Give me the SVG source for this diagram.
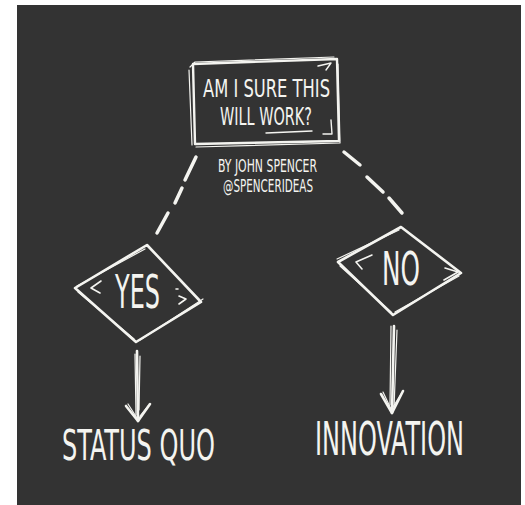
<svg xmlns="http://www.w3.org/2000/svg" width="525" height="505" viewBox="0 0 525 505">
<style>
.chalk{fill:none;stroke:#f4f4f0;stroke-linecap:round;stroke-linejoin:round}
.t{fill:#f4f4f0;font-family:"Liberation Sans Narrow","DejaVu Sans Condensed","Liberation Sans",sans-serif}
</style>
<rect x="0" y="0" width="525" height="505" fill="#ffffff"/>
<rect x="17" y="5" width="504" height="500" fill="#333333"/>

<g id="question">
<path class="chalk" stroke-width="2.4" d="M193,64 L337,59 L339,141 L195,144 Z"/>
<path class="chalk" stroke-width="1.2" d="M190,67 L195,62 L334,57 M196,147 L340,143 L338,64 M189,70 L192,145"/>
<path class="chalk" stroke-width="1.4" d="M318,66 L331,63 L326,70 M266,133 L312,131 M323,134 L332,134 L331,120"/>
<text class="t" x="203" y="97" font-size="25" textLength="127" lengthAdjust="spacingAndGlyphs">AM I SURE THIS</text>
<text class="t" x="220" y="125" font-size="25" textLength="92" lengthAdjust="spacingAndGlyphs">WILL WORK?</text>
</g>

<g id="byline">
<text class="t" x="218" y="172" font-size="17" textLength="99" lengthAdjust="spacingAndGlyphs">BY JOHN SPENCER</text>
<text class="t" x="223" y="192" font-size="17" textLength="90" lengthAdjust="spacingAndGlyphs">@SPENCERIDEAS</text>
</g>

<g id="yes">
<path class="chalk" stroke-width="2.6" d="M75,288 L147,245 L201,302 L136,342 Z"/>
<path class="chalk" stroke-width="1.2" d="M78,292 L134,339 M140,340 L203,299 M77,286 L145,249"/>
<path class="chalk" stroke-width="1.6" d="M101,281 L91,288 L100,293 M176,289 L178,289 M179,296 L186,299 L179,304"/>
<text class="t" x="115" y="308" font-size="46" textLength="45" lengthAdjust="spacingAndGlyphs">YES</text>
</g>

<g id="no">
<path class="chalk" stroke-width="2.6" d="M338,262 L401,227 L461,273 L393,315 Z"/>
<path class="chalk" stroke-width="1.2" d="M340,266 L391,312 M337,259 L399,230 M395,312 L459,276"/>
<path class="chalk" stroke-width="1.6" d="M372,255 L356,262 L362,269 M445,268 L458,272 L444,280"/>
<text class="t" x="382" y="285" font-size="46" textLength="38" lengthAdjust="spacingAndGlyphs">NO</text>
</g>

<g id="status-quo">
<text class="t" x="62" y="460" font-size="42" textLength="153" lengthAdjust="spacingAndGlyphs">STATUS QUO</text>
</g>

<g id="innovation">
<text class="t" x="315" y="455" font-size="46" textLength="149" lengthAdjust="spacingAndGlyphs">INNOVATION</text>
</g>

<g id="connectors">
<path class="chalk" stroke-width="3.5" d="M196,157 L185,180 M182,188 L175,203 M168,213 L157,233"/>
<path class="chalk" stroke-width="3.5" d="M344,152 L360,165 M367,177 L383,192 M389,198 L402,213"/>
<path class="chalk" stroke-width="2.6" d="M137,351 L138,421"/>
<path class="chalk" stroke-width="1.2" d="M135,354 L136,415 M140,356 L139,410"/>
<path class="chalk" stroke-width="2.6" d="M126,406 L138,421 L150,404"/>
<path class="chalk" stroke-width="1.2" d="M128,404 L137,418 M148,406 L140,416"/>
<path class="chalk" stroke-width="2.6" d="M394,326 L392,413"/>
<path class="chalk" stroke-width="1.2" d="M391,326 L390,405 M397,330 L394,408"/>
<path class="chalk" stroke-width="2.6" d="M381,394 L392,413 L403,391"/>
<path class="chalk" stroke-width="1.2" d="M383,392 L391,409 M401,394 L393,407"/>
</g>
</svg>
